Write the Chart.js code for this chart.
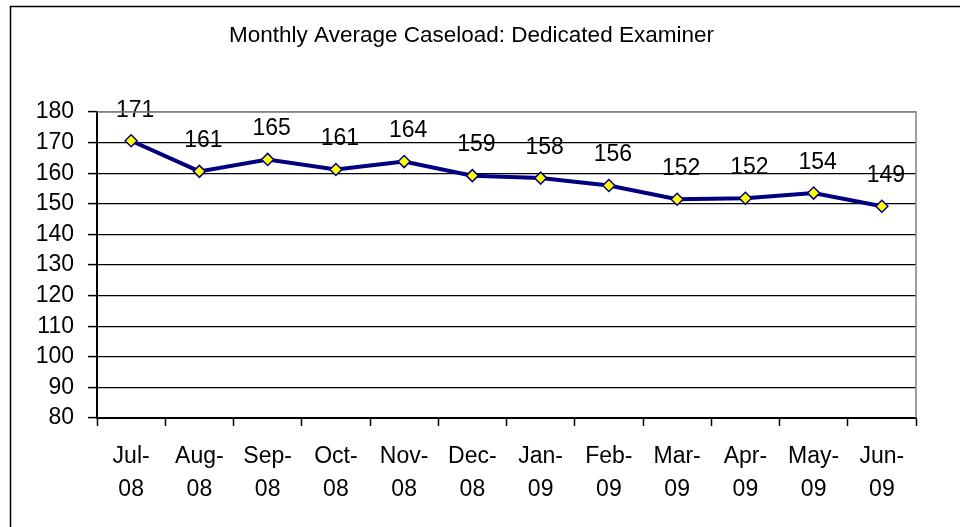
<!DOCTYPE html>
<html>
<head>
<meta charset="utf-8">
<script src="https://cdn.jsdelivr.net/npm/chart.js@4"></script>
<style>
  body { margin: 0; background: #fff; }
</style>
</head>
<body>
<canvas id="grafico" width="960" height="527"></canvas>
<script>
const meses = [['Jul-', '08'], ['Aug-', '08'], ['Sep-', '08'], ['Oct-', '08'], ['Nov-', '08'], ['Dec-', '08'],
               ['Jan-', '09'], ['Feb-', '09'], ['Mar-', '09'], ['Apr-', '09'], ['May-', '09'], ['Jun-', '09']];
const promedio = [170.6, 160.6, 164.5, 161.2, 163.8, 159.2, 158.4, 156.0, 151.5, 151.8, 153.5, 149.2];
const ticksY = [80, 90, 100, 110, 120, 130, 140, 150, 160, 170, 180];

const fuente = 'Liberation Sans, Arial, sans-serif';

// borde exterior (solo arriba e izquierda, el resto queda fuera de la imagen)
const bordeExterior = {
  id: 'bordeExterior',
  beforeDraw(chart) {
    const ctx = chart.ctx;
    ctx.save();
    ctx.strokeStyle = '#000';
    ctx.lineWidth = 1.5;
    ctx.beginPath();
    ctx.moveTo(10.5, chart.height);
    ctx.lineTo(10.5, 6.5);
    ctx.lineTo(chart.width, 6.5);
    ctx.stroke();
    ctx.restore();
  },
  afterDraw(chart) {
    // marco gris del area de trazado (arriba y derecha)
    const a = chart.chartArea;
    const ctx = chart.ctx;
    ctx.save();
    ctx.strokeStyle = '#808080';
    ctx.lineWidth = 1.5;
    ctx.beginPath();
    ctx.moveTo(a.left, a.top);
    ctx.lineTo(a.right, a.top);
    ctx.lineTo(a.right, a.bottom);
    ctx.stroke();
    ctx.restore();
  }
};

// etiquetas de valor encima de cada punto
const etiquetas = {
  id: 'etiquetas',
  afterDatasetsDraw(chart) {
    const ctx = chart.ctx;
    const meta = chart.getDatasetMeta(0);
    ctx.save();
    ctx.font = '23px ' + fuente;
    ctx.fillStyle = '#000';
    ctx.textAlign = 'center';
    ctx.textBaseline = 'bottom';
    meta.data.forEach((p, i) => {
      ctx.fillText(Math.round(promedio[i]), p.x + 4, p.y - 19);
    });
    ctx.restore();
  }
};

new Chart(document.getElementById('grafico').getContext('2d'), {
  type: 'line',
  data: {
    labels: meses,
    datasets: [{
      data: promedio,
      borderColor: '#000080',
      borderWidth: 4,
      tension: 0,
      pointStyle: 'rectRot',
      pointRadius: 6,
      pointBackgroundColor: '#ffff00',
      pointBorderColor: '#000080',
      pointBorderWidth: 1.5
    }]
  },
  options: {
    responsive: false,
    animation: false,
    devicePixelRatio: 1,
    layout: { padding: { left: 27, right: 44, top: 0, bottom: 0 } },
    plugins: {
      legend: { display: false },
      tooltip: { enabled: false },
      title: {
        display: true,
        text: 'Monthly Average Caseload: Dedicated Examiner',
        color: '#000',
        font: { family: fuente, size: 22.5, weight: 'normal' },
        padding: { top: 22, bottom: 63 }
      }
    },
    scales: {
      x: {
        offset: true,
        afterFit(scale) { scale.height = 109; },
        grid: {
          offset: true,
          drawOnChartArea: false,
          drawTicks: true,
          tickLength: 8,
          tickColor: '#000',
          tickWidth: 1.5
        },
        border: { color: '#000', width: 2 },
        ticks: {
          color: '#000',
          font: { family: fuente, size: 23, lineHeight: 1.4 },
          padding: 15,
          autoSkip: false,
          maxRotation: 0
        }
      },
      y: {
        min: 80,
        max: 180,
        afterFit(scale) { scale.width = 70; },
        afterBuildTicks(scale) { scale.ticks = ticksY.map(v => ({ value: v })); },
        grid: {
          color: ctx => ctx.tick && ctx.tick.value === 180 ? '#808080' : '#000',
          lineWidth: 1.2,
          drawTicks: true,
          tickLength: 9,
          tickColor: '#000',
          tickWidth: 1.5
        },
        border: { color: '#000', width: 2 },
        ticks: {
          color: '#000',
          font: { family: fuente, size: 23 },
          padding: 14
        }
      }
    }
  },
  plugins: [bordeExterior, etiquetas]
});
</script>
</body>
</html>
